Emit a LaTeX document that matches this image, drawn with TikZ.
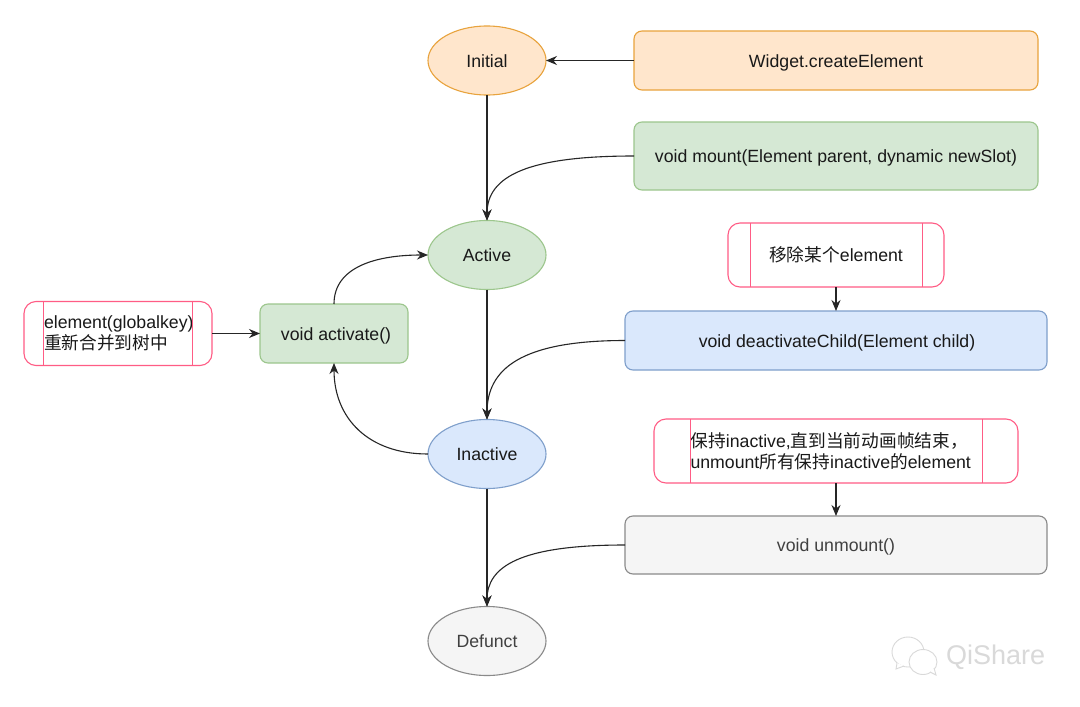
\documentclass[tikz,border=0pt]{standalone}
\usepackage{fontspec}
\setmainfont{Liberation Sans}
\newfontfamily\cjk{Noto Sans CJK SC}
\usetikzlibrary{arrows.meta,shapes.geometric}
\definecolor{orf}{HTML}{FFE6CC}\definecolor{ord}{HTML}{E8A33D}
\definecolor{grf}{HTML}{D5E8D4}\definecolor{grd}{HTML}{9CC68C}
\definecolor{blf}{HTML}{DAE8FC}\definecolor{bld}{HTML}{7F9FCB}
\definecolor{gyf}{HTML}{F5F5F5}\definecolor{gyd}{HTML}{8A8A8A}
\definecolor{pk}{HTML}{FF5C85}\definecolor{wm}{HTML}{D9D9D9}
\tikzset{
 base/.style={line width=1.1pt,inner sep=0pt,outer sep=0pt,font=\fontsize{17.7pt}{21pt}\selectfont,text=black!90},
 oneline/.style={text height=15pt,text depth=2pt},
 state/.style={base,oneline,ellipse,draw,minimum width=118pt,minimum height=69pt},
 box/.style={base,oneline,draw,rectangle,rounded corners=8pt},
 proc/.style={base,draw=pk,fill=white,rectangle,rounded corners=12pt,align=left},
 inner/.style={pk,line width=1pt},
 orange/.style={fill=orf,draw=ord},
 green/.style={fill=grf,draw=grd},
 blue/.style={fill=blf,draw=bld},
 grey/.style={fill=gyf,draw=gyd,text=black!75},
 link/.style={line width=1.1pt,black!85,-{Stealth[length=11pt,width=9pt]}}
}
\begin{document}
\begin{tikzpicture}[x=1pt,y=-1pt]
\useasboundingbox (0,0) rectangle (1080,707);
\fill[white] (0,0) rectangle (1080,707);
% states
\node[state,orange] (initial) at (487,60.5) {Initial};
\node[state,green] (active) at (487,255) {Active};
\node[state,blue] (inactive) at (487,454) {Inactive};
\node[state,grey] (defunct) at (487,641) {Defunct};
% method boxes
\node[box,orange,minimum width=404pt,minimum height=59pt] (create) at (836,60.5) {Widget.createElement};
\node[box,green,minimum width=404pt,minimum height=68pt] (mount) at (836,156) {void mount(Element parent, dynamic newSlot)};
\node[box,blue,minimum width=422pt,minimum height=59pt] (deact) at (836,340.5) {\hspace*{2pt}void deactivateChild(Element child)};
\node[box,grey,minimum width=422pt,minimum height=58pt] (unmount) at (836,545) {void unmount()};
\node[box,green,minimum width=148pt,minimum height=59pt] (activate) at (334,333.5) {\hspace*{4pt}void activate()};
% process boxes
\node[proc,oneline,minimum width=216pt,minimum height=64pt,align=center] (remove) at (836,255) {{\cjk 移除某个}element};
\node[proc,minimum width=364pt,minimum height=64pt] (keep) at (836,451) {\raisebox{-2pt}{\parbox{292pt}{\raggedright\mbox{\hspace*{0.5pt}{\cjk 保持}inactive,{\cjk 直到当前动画帧结束，}}\\\mbox{\hspace*{0.5pt}unmount{\cjk 所有保持}inactive{\cjk 的}element}}}};
\node[proc,minimum width=188pt,minimum height=64pt] (elem) at (118,333.5) {\raisebox{-2pt}{\parbox{149pt}{\raggedright\mbox{\hspace*{0.5pt}element(globalkey)}\\\mbox{\hspace*{0.5pt}{\cjk 重新合并到树中}}}}};
\draw[inner] ([xshift=22pt]remove.north west) -- ([xshift=22pt]remove.south west);
\draw[inner] ([xshift=-22pt]remove.north east) -- ([xshift=-22pt]remove.south east);
\draw[inner] ([xshift=36pt]keep.north west) -- ([xshift=36pt]keep.south west);
\draw[inner] ([xshift=-36pt]keep.north east) -- ([xshift=-36pt]keep.south east);
\draw[inner] ([xshift=19pt]elem.north west) -- ([xshift=19pt]elem.south west);
\draw[inner] ([xshift=-20pt]elem.north east) -- ([xshift=-20pt]elem.south east);
% connectors
\draw[link] (create.west) -- (initial.east);
\draw[link] (initial.south) -- (active.north);
\draw[link] (active.south) -- (inactive.north);
\draw[link] (inactive.south) -- (defunct.north);
\draw[link] (remove.south) -- (deact.north);
\draw[link] (keep.south) -- (unmount.north);
\draw[link] (elem.east) -- (activate.west);
\draw[link] (mount.west) .. controls +(-105,0) and +(0,-45) .. (active.north);
\draw[link] (deact.west) .. controls +(-105,0) and +(0,-50) .. (inactive.north);
\draw[link] (unmount.west) .. controls +(-105,0) and +(0,-40) .. (defunct.north);
\draw[link] (activate.north) .. controls +(0,-38) and +(-50,0) .. (active.west);
\draw[link] (inactive.west) .. controls +(-60,0) and +(0,55) .. (activate.south);
% watermark
\draw[wm,line width=0.9pt,fill=white] (908,652) ellipse (16pt and 15pt);
\draw[wm,line width=0.9pt,fill=white] (897,663) -- (896,669) -- (904,666);
\draw[wm,line width=0.9pt,fill=white] (923,662) ellipse (14pt and 12.5pt);
\draw[wm,line width=0.9pt,fill=white] (930,672) -- (936,675) -- (934,668);
\node[inner sep=0pt,anchor=west,text=wm,font=\fontsize{27pt}{30pt}\selectfont] (mark) at (946,657) {QiShare};
\end{tikzpicture}
\end{document}
